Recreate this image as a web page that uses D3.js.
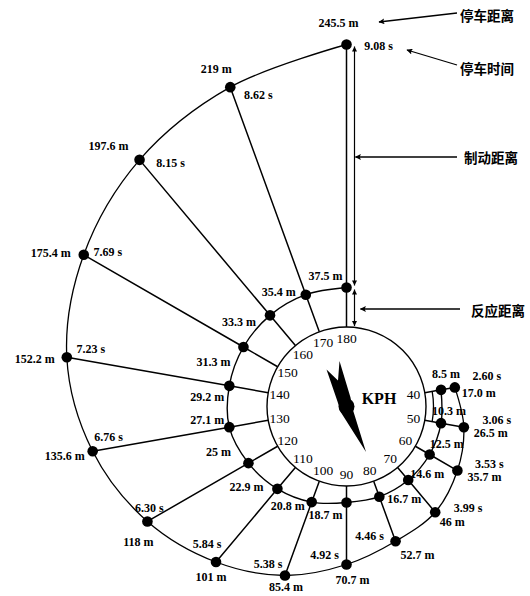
<!DOCTYPE html>
<html>
<head>
<meta charset="utf-8">
<script src="https://cdn.jsdelivr.net/npm/d3@7"></script>
<style>
  body { margin: 0; background: #fff; }
  svg text { fill: #000; }
  .rotulo { font-family: 'Liberation Serif', serif; font-weight: bold; font-size: 12px; }
  .velocidade { font-family: 'Liberation Serif', serif; font-size: 13.5px; }
  .kph { font-family: 'Liberation Serif', serif; font-weight: bold; font-size: 16px; }
  .nota { font-family: 'Noto Sans CJK SC', sans-serif; font-weight: bold; font-size: 13.5px; }
</style>
</head>
<body>
<svg id="grafico"></svg>
<script>
// Dados: velocidade (km/h), distância de reação (m),
// distância de parada (m) e tempo de parada (s)
var velocidades = [180, 170, 160, 150, 140, 130, 120, 110, 100, 90, 80, 70, 60, 50, 40];
var distReacao  = ['37.5', '35.4', '33.3', '31.3', '29.2', '27.1', '25', '22.9', '20.8', '18.7', '16.7', '14.6', '12.5', '10.3', '8.5'];
var distParada  = ['245.5', '219', '197.6', '175.4', '152.2', '135.6', '118', '101', '85.4', '70.7', '52.7', '46', '35.7', '26.5', '17.0'];
var tempoParada = ['9.08', '8.62', '8.15', '7.69', '7.23', '6.76', '6.30', '5.84', '5.38', '4.92', '4.46', '3.99', '3.53', '3.06', '2.60'];
var notas = ['停车距离', '停车时间', '制动距离', '反应距离'];

// Deslocamentos dos rótulos em relação aos pontos (layout)
var despReacao = [[-21,-12],[-27,-3],[-31,7],[-30,15],[-22,11],[-22,-7],[-30,-11],[-31,-2],[-24,4],[-21,12],[25,2],[19,-6],[17,-11],[8,-12],[5,-16]];
var despParada = [[-8,-22],[-14,-18],[-31,-14],[-33,-2],[-32,2],[-28,5],[-9,21],[-5,15],[1,12],[6,15],[22,14],[17,10],[27,6],[27,6],[24,6]];
var despTempo  = [[32,1],[28,8],[31,3],[24,-3],[24,-8],[16,-14],[2,-13],[-9,-18],[-17,-11],[-22,-10],[-26,-5],[33,-4],[32,-7],[33,-7],[32,-11]];

var largura = 530, altura = 596;
var cx = 346.5, cy = 406.5, raioMostrador = 79.5;

var svg = d3.select('#grafico')
            .attr('width', largura)
            .attr('height', altura);

// Escalas: velocidade -> ângulo, distâncias -> raio
var angulo = d3.scaleLinear().domain([0, 180]).range([0, 2 * Math.PI]);
var raioReacao = d3.scaleLinear().domain([18.7, 27.1]).range([96, 119]).clamp(true);
var raioParada = d3.scaleLinear()
                   .domain([17, 46, 70.7, 101, 152.2, 245.5])
                   .range([110, 138, 158, 203, 284, 362]);

function ponto(a, r) {
  return [cx + r * Math.sin(a), cy - r * Math.cos(a)];
}

var dados = velocidades.map(function(v, i) {
  var a = angulo(v);
  return {
    v: v,
    a: a,
    base: ponto(a, raioMostrador),
    reacao: ponto(a, raioReacao(+distReacao[i])),
    parada: ponto(a, raioParada(+distParada[i])),
    dr: distReacao[i], dp: distParada[i], tp: tempoParada[i], i: i
  };
});

// Marcadores de seta
var defs = svg.append('defs');
defs.append('marker')
    .attr('id', 'seta')
    .attr('viewBox', '0 0 10 10')
    .attr('refX', 9).attr('refY', 5)
    .attr('markerUnits', 'userSpaceOnUse')
    .attr('markerWidth', 11).attr('markerHeight', 6)
    .attr('orient', 'auto-start-reverse')
    .append('path').attr('d', 'M0,0 L10,5 L0,10 L2,5 Z').attr('fill', '#000');
defs.append('marker')
    .attr('id', 'setaPequena')
    .attr('viewBox', '0 0 10 10')
    .attr('refX', 10).attr('refY', 5)
    .attr('markerUnits', 'userSpaceOnUse')
    .attr('markerWidth', 6).attr('markerHeight', 5)
    .attr('orient', 'auto-start-reverse')
    .append('path').attr('d', 'M0,0 L10,5 L0,10 Z').attr('fill', '#000');

var linhas = svg.append('g')
                .attr('fill', 'none')
                .attr('stroke', '#000');

// Mostrador
linhas.append('circle')
      .attr('cx', cx).attr('cy', cy).attr('r', raioMostrador)
      .attr('stroke-width', 1.4);

// Curvas de reação e de parada
var curva = d3.line().curve(d3.curveCatmullRom.alpha(0.5));
linhas.append('path')
      .attr('d', curva(dados.map(d => d.reacao)))
      .attr('stroke-width', 1.4);
linhas.append('path')
      .attr('d', curva(dados.map(d => d.parada)))
      .attr('stroke-width', 1.3);

// Pequeno arco entre 40 e 50
linhas.append('path')
      .attr('transform', 'translate(' + cx + ',' + cy + ')')
      .attr('d', d3.arc()({innerRadius: 87, outerRadius: 87,
                           startAngle: angulo(40), endAngle: angulo(50)}))
      .attr('stroke-width', 1.3);

// Raios
linhas.selectAll('.raio')
      .data(dados)
      .enter()
      .append('polyline')
      .classed('raio', true)
      .attr('points', d => [d.base, d.reacao, d.parada].join(' '))
      .attr('stroke-width', 1.5);

// Cotas de distância (180 km/h)
var topo = dados[0];
var xCota = cx + 8;
linhas.append('line')
      .attr('x1', xCota).attr('x2', xCota)
      .attr('y1', topo.parada[1] + 2).attr('y2', topo.reacao[1] - 2)
      .attr('stroke-width', 1.2)
      .attr('marker-start', 'url(#setaPequena)')
      .attr('marker-end', 'url(#setaPequena)');
linhas.append('line')
      .attr('x1', xCota).attr('x2', xCota)
      .attr('y1', topo.reacao[1] + 2).attr('y2', topo.base[1] - 1)
      .attr('stroke-width', 1.2)
      .attr('marker-start', 'url(#setaPequena)')
      .attr('marker-end', 'url(#setaPequena)');

// Pontos
var pontos = svg.append('g').attr('fill', '#000');
pontos.selectAll('.pr')
      .data(dados).enter()
      .append('circle').classed('pr', true)
      .attr('cx', d => d.reacao[0]).attr('cy', d => d.reacao[1]).attr('r', 5.3);
pontos.selectAll('.pp')
      .data(dados).enter()
      .append('circle').classed('pp', true)
      .attr('cx', d => d.parada[0]).attr('cy', d => d.parada[1]).attr('r', 5.3);

// Rótulos
var textos = svg.append('g')
                .attr('text-anchor', 'middle')
                .attr('dominant-baseline', 'central');
textos.selectAll('.vel')
      .data(dados).enter()
      .append('text').classed('velocidade', true)
      .attr('x', d => ponto(d.a, 68)[0])
      .attr('y', d => ponto(d.a, 68)[1])
      .text(d => d.v);
textos.selectAll('.lr')
      .data(dados).enter()
      .append('text').classed('rotulo', true)
      .attr('x', d => d.reacao[0] + despReacao[d.i][0])
      .attr('y', d => d.reacao[1] + despReacao[d.i][1])
      .text(d => d.dr + ' m');
textos.selectAll('.lp')
      .data(dados).enter()
      .append('text').classed('rotulo', true)
      .attr('x', d => d.parada[0] + despParada[d.i][0])
      .attr('y', d => d.parada[1] + despParada[d.i][1])
      .text(d => d.dp + ' m');
textos.selectAll('.lt')
      .data(dados).enter()
      .append('text').classed('rotulo', true)
      .attr('x', d => d.parada[0] + despTempo[d.i][0])
      .attr('y', d => d.parada[1] + despTempo[d.i][1])
      .text(d => d.tp + ' s');

// Ponteiro
var ponteiro = svg.append('g')
                  .attr('transform', 'translate(' + cx + ',' + cy + ')')
                  .attr('fill', '#000');
ponteiro.append('path')
        .attr('d', 'M19.5,45.5 L6,2 L4,-9 L-7,-45.5 L-8.5,-26 L-20,-37 L-9,-5 L-5.5,6 Z');
ponteiro.append('circle').attr('r', 8);
svg.append('text')
   .classed('kph', true)
   .attr('x', 379).attr('y', 398)
   .attr('text-anchor', 'middle')
   .attr('dominant-baseline', 'central')
   .text('KPH');

// Notas com setas
var notasPos = [
  {x1: 457, y1: 13, x2: 379, y2: 22, tx: 460, ty: 15},
  {x1: 457, y1: 65, x2: 407, y2: 50, tx: 460, ty: 68},
  {x1: 457, y1: 157, x2: xCota + 1, y2: 157, tx: 464, ty: 157},
  {x1: 460, y1: 309, x2: xCota + 6, y2: 309, tx: 471, ty: 310}
];
notasPos.forEach(function(p, i) {
  svg.append('line')
     .attr('x1', p.x1).attr('y1', p.y1)
     .attr('x2', p.x2).attr('y2', p.y2)
     .attr('stroke', '#000').attr('stroke-width', 1.3)
     .attr('marker-end', 'url(#seta)');
  svg.append('text')
     .classed('nota', true)
     .attr('x', p.tx).attr('y', p.ty)
     .attr('dominant-baseline', 'central')
     .text(notas[i]);
});
</script>
</body>
</html>
